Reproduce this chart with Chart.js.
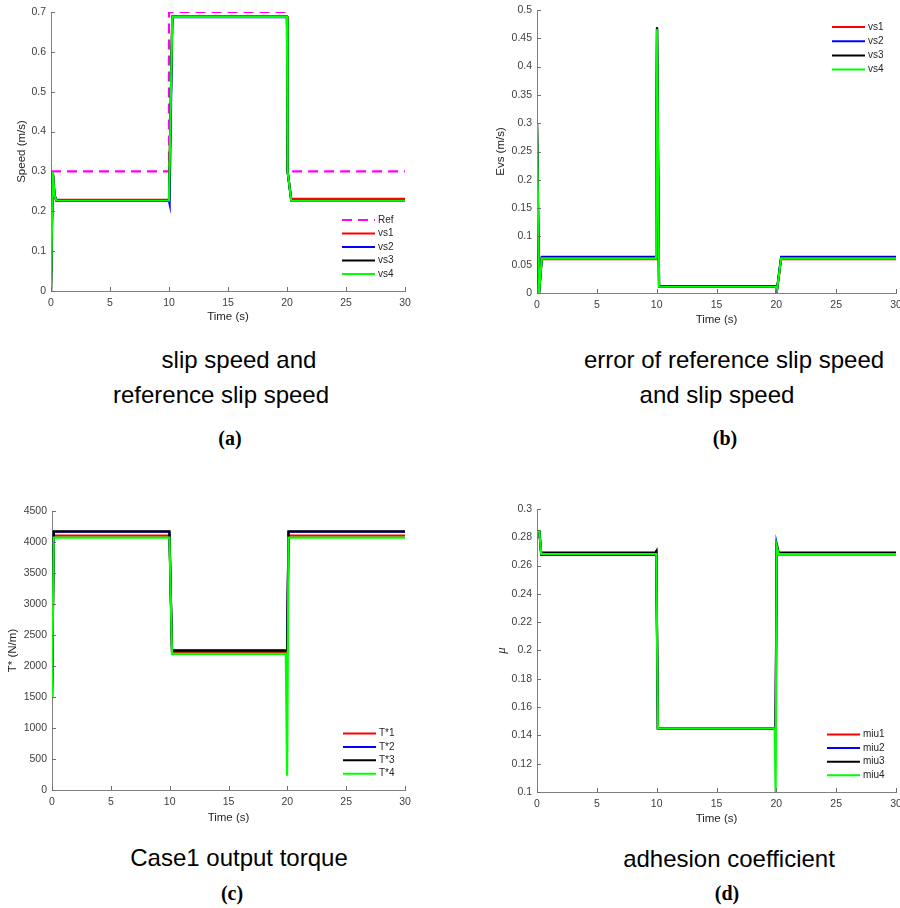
<!DOCTYPE html>
<html>
<head>
<meta charset="utf-8">
<script src="https://cdn.jsdelivr.net/npm/chart.js@4.4.0/dist/chart.umd.min.js"></script>
<style>
html, body { margin: 0; padding: 0; background: #fff; overflow: hidden; }
body { width: 900px; height: 908px; position: relative; font-family: "Liberation Sans", Arial, sans-serif; }
canvas { position: absolute; }
.cap { position: absolute; font-size: 24px; line-height: 28px; color: #000; white-space: nowrap; transform: translateX(-50%); }
.tag { position: absolute; font-family: "Liberation Serif", "Times New Roman", serif; font-weight: bold; font-size: 20px; line-height: 24px; color: #000; transform: translateX(-50%); }
</style>
</head>
<body>
<canvas id="chartA" width="450" height="330" style="left:0;top:0"></canvas>
<canvas id="chartB" width="450" height="330" style="left:450px;top:0"></canvas>
<canvas id="chartC" width="450" height="340" style="left:0;top:490px"></canvas>
<canvas id="chartD" width="450" height="340" style="left:450px;top:490px"></canvas>

<div class="cap" style="left:239px;top:346px">slip speed and</div>
<div class="cap" style="left:221px;top:381px">reference slip speed</div>
<div class="tag" style="left:230px;top:426px">(a)</div>

<div class="cap" style="left:734px;top:346px">error of reference slip speed</div>
<div class="cap" style="left:717px;top:381px">and slip speed</div>
<div class="tag" style="left:725px;top:426px">(b)</div>

<div class="cap" style="left:239px;top:844px">Case1 output torque</div>
<div class="tag" style="left:232px;top:881px">(c)</div>

<div class="cap" style="left:729px;top:845px">adhesion coefficient</div>
<div class="tag" style="left:727px;top:881px">(d)</div>

<script>
// tick labels
const timeTicks = [0, 5, 10, 15, 20, 25, 30];
const speedTicks = [0, 0.1, 0.2, 0.3, 0.4, 0.5, 0.6, 0.7];
const errTicks = [0, 0.05, 0.1, 0.15, 0.2, 0.25, 0.3, 0.35, 0.4, 0.45, 0.5];
const torqueTicks = [0, 500, 1000, 1500, 2000, 2500, 3000, 3500, 4000, 4500];
const miuTicks = [0.1, 0.12, 0.14, 0.16, 0.18, 0.2, 0.22, 0.24, 0.26, 0.28, 0.3];

// (a) slip speed
const speedRefTime = [0, 10, 10, 20, 20, 30];
const speedRef = [0.3, 0.3, 0.7, 0.7, 0.3, 0.3];
const speedTime = [0, 0.02, 0.15, 0.3, 0.45, 10, 10.05, 10.28, 20, 20.05, 20.36, 30];
const speedVs1 = [0, 0, 0.3, 0.24, 0.229, 0.229, 0.229, 0.689, 0.689, 0.30, 0.231, 0.231];
const speedVs2 = [0, 0, 0.3, 0.24, 0.226, 0.226, 0.219, 0.687, 0.687, 0.30, 0.227, 0.227];
const speedVs3 = [0, 0, 0.3, 0.24, 0.228, 0.228, 0.228, 0.688, 0.688, 0.30, 0.228, 0.228];
const speedVs4 = [0, 0, 0.3, 0.24, 0.227, 0.227, 0.227, 0.688, 0.688, 0.30, 0.227, 0.227];

// (b) speed error
const errTime = [0, 0.17, 0.4, 9.95, 10.03, 10.2, 19.97, 20.02, 20.4, 30];
const errVs1 = [0.3, 0, 0.060, 0.060, 0.466, 0.011, 0.011, 0, 0.060, 0.060];
const errVs2 = [0.3, 0, 0.064, 0.064, 0.470, 0.012, 0.012, 0, 0.064, 0.064];
const errVs3 = [0.3, 0, 0.062, 0.062, 0.468, 0.011, 0.011, 0, 0.062, 0.062];
const errVs4 = [0.3, 0, 0.061, 0.061, 0.466, 0.011, 0.011, 0, 0.061, 0.061];

// (c) output torque
const torqueTime = [0, 0.15, 9.98, 10.2, 19.87, 19.98, 20.1, 30];
const torque1 = [1480, 4102, 4102, 2220, 2220, 2220, 4102, 4102];
const torque2 = [1490, 4165, 4165, 2245, 2245, 2245, 4165, 4165];
const torque3 = [1500, 4170, 4170, 2252, 2252, 2252, 4170, 4170];
const torque4 = [1500, 4069, 4069, 2195, 2195, 230, 4069, 4069];

// (d) adhesion coefficient
const miuTime = [0, 0.2, 0.35, 9.92, 9.97, 10.1, 19.86, 19.94, 20.03, 20.2, 30];
const miu1 = [0.284, 0.284, 0.268, 0.268, 0.271, 0.145, 0.145, 0.145, 0.276, 0.2685, 0.2685];
const miu2 = [0.284, 0.284, 0.2675, 0.2675, 0.2685, 0.145, 0.145, 0.145, 0.275, 0.268, 0.268];
const miu3 = [0.284, 0.284, 0.2692, 0.2692, 0.270, 0.145, 0.145, 0.145, 0.274, 0.2692, 0.2692];
const miu4 = [0.284, 0.284, 0.2682, 0.2682, 0.2682, 0.145, 0.145, 0.1, 0.274, 0.2682, 0.2682];

const RED = '#ff0000', BLUE = '#0000ff', BLACK = '#000000', GREEN = '#00ff00';
const FONT = '"Liberation Sans", Arial, sans-serif';
Chart.defaults.font.family = FONT;

// legend drawn inside the plot area, MATLAB style
const innerLegend = {
    id: 'innerLegend',
    afterDraw(chart, args, o) {
        const ctx = chart.ctx;
        ctx.save();
        ctx.font = '10px ' + FONT;
        ctx.textBaseline = 'middle';
        chart.data.datasets.forEach((ds, i) => {
            const y = o.y + i * o.dy;
            ctx.strokeStyle = ds.borderColor;
            ctx.lineWidth = 2;
            ctx.setLineDash(ds.borderDash || []);
            ctx.beginPath();
            ctx.moveTo(o.x, y);
            ctx.lineTo(o.x + 33, y);
            ctx.stroke();
            ctx.setLineDash([]);
            ctx.fillStyle = '#262626';
            ctx.fillText(ds.label, o.x + 36, y);
        });
        ctx.restore();
    }
};

// inward tick marks
const tickMarks = {
    id: 'tickMarks',
    afterDatasetsDraw(chart) {
        const { ctx, chartArea: a, scales: { x, y } } = chart;
        ctx.save();
        ctx.strokeStyle = '#707070';
        ctx.lineWidth = 1;
        ctx.beginPath();
        x.ticks.forEach(t => {
            const px = Math.round(x.getPixelForValue(t.value)) + 0.5;
            ctx.moveTo(px, a.bottom);
            ctx.lineTo(px, a.bottom - 4);
        });
        y.ticks.forEach(t => {
            const py = Math.round(y.getPixelForValue(t.value)) + 0.5;
            ctx.moveTo(a.left, py);
            ctx.lineTo(a.left + 4, py);
        });
        ctx.stroke();
        ctx.restore();
    }
};

function line(label, t, v, color, extra) {
    return Object.assign({
        label: label,
        data: t.map((tt, k) => ({ x: tt, y: v[k] })),
        borderColor: color,
        borderWidth: 2.2,
        pointRadius: 0,
        tension: 0,
        fill: false
    }, extra || {});
}

function buildChart(id, cfg) {
    const n = cfg.series.length;
    cfg.series.forEach((s, i) => { s.order = n - i; });
    return new Chart(document.getElementById(id), {
        type: 'line',
        data: { datasets: cfg.series },
        options: {
            responsive: false,
            animation: false,
            events: [],
            layout: { padding: cfg.pad },
            plugins: { legend: { display: false }, tooltip: { enabled: false }, innerLegend: cfg.legend },
            scales: {
                x: {
                    type: 'linear',
                    min: timeTicks[0],
                    max: timeTicks[timeTicks.length - 1],
                    afterBuildTicks: s => { s.ticks = timeTicks.map(v => ({ value: v })); },
                    afterFit: s => { s.height = cfg.xh; s.paddingLeft = 0; s.paddingRight = 0; },
                    grid: { display: false, drawTicks: false },
                    border: { display: true, color: '#808080', width: 1 },
                    ticks: { color: '#404040', font: { size: 10.5 }, padding: 6, maxRotation: 0, autoSkip: false, callback: v => String(v) },
                    title: { display: true, text: 'Time (s)', color: '#262626', font: { size: 11.5 }, padding: { top: 0, bottom: 0 } }
                },
                y: {
                    type: 'linear',
                    min: cfg.yTicks[0],
                    max: cfg.yTicks[cfg.yTicks.length - 1],
                    afterBuildTicks: s => { s.ticks = cfg.yTicks.map(v => ({ value: v })); },
                    afterFit: s => { s.width = cfg.yw; s.paddingTop = 0; s.paddingBottom = 0; },
                    grid: { display: false, drawTicks: false },
                    border: { display: true, color: '#808080', width: 1 },
                    ticks: { color: '#404040', font: { size: 10.5 }, padding: 5, autoSkip: false, callback: v => String(Math.round(v * 1000) / 1000) },
                    title: { display: true, text: cfg.yTitle, color: '#262626', font: cfg.yFont || { size: 11.5 }, padding: { top: cfg.yTitlePad, bottom: 0 } }
                }
            }
        },
        plugins: [innerLegend, tickMarks]
    });
}

buildChart('chartA', {
    series: [
        line('Ref', speedRefTime, speedRef, '#ff00ff', { borderDash: [10, 6] }),
        line('vs1', speedTime, speedVs1, RED),
        line('vs2', speedTime, speedVs2, BLUE),
        line('vs3', speedTime, speedVs3, BLACK),
        line('vs4', speedTime, speedVs4, GREEN)
    ],
    yTicks: speedTicks, yTitle: 'Speed (m/s)', yTitlePad: 15,
    pad: { left: 0, top: 12, right: 45, bottom: 6 }, yw: 51, xh: 33,
    legend: { x: 342, y: 220, dy: 13.5 }
});

buildChart('chartB', {
    series: [
        line('vs1', errTime, errVs1, RED),
        line('vs2', errTime, errVs2, BLUE),
        line('vs3', errTime, errVs3, BLACK),
        line('vs4', errTime, errVs4, GREEN)
    ],
    yTicks: errTicks, yTitle: 'Evs (m/s)', yTitlePad: 44,
    pad: { left: 0, top: 10, right: 4, bottom: 3 }, yw: 87, xh: 34,
    legend: { x: 382, y: 27, dy: 14.2 }
});

buildChart('chartC', {
    series: [
        line('T*1', torqueTime, torque1, RED),
        line('T*2', torqueTime, torque2, BLUE),
        line('T*3', torqueTime, torque3, BLACK),
        line('T*4', torqueTime, torque4, GREEN)
    ],
    yTicks: torqueTicks, yTitle: 'T* (N/m)', yTitlePad: 6,
    pad: { left: 0, top: 21, right: 45, bottom: 5 }, yw: 52, xh: 35,
    legend: { x: 343, y: 243.5, dy: 13.4 }
});

buildChart('chartD', {
    series: [
        line('miu1', miuTime, miu1, RED),
        line('miu2', miuTime, miu2, BLUE),
        line('miu3', miuTime, miu3, BLACK),
        line('miu4', miuTime, miu4, GREEN)
    ],
    yTicks: miuTicks, yTitle: 'μ', yTitlePad: 44, yFont: { size: 13, style: 'italic', family: '"Liberation Serif", serif' },
    pad: { left: 0, top: 19, right: 4, bottom: 4 }, yw: 87, xh: 34,
    legend: { x: 377, y: 244.5, dy: 13.6 }
});
</script>
</body>
</html>
